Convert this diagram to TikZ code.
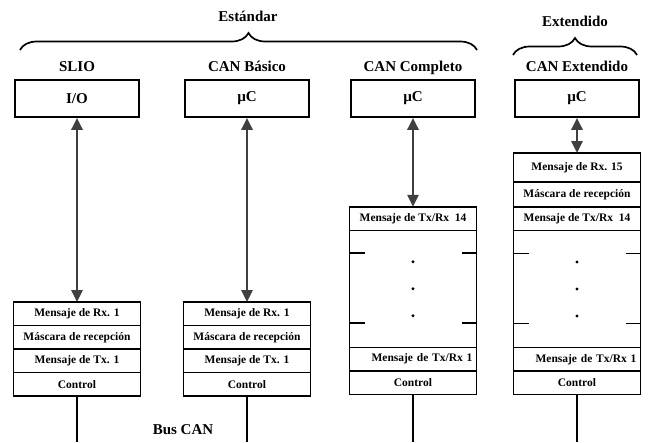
\documentclass[tikz,border=0pt]{standalone}
\usepackage{fontspec}
\setmainfont{Liberation Serif}
\usetikzlibrary{arrows.meta,positioning,decorations.pathreplacing}

\begin{document}
\begin{tikzpicture}[x=1pt,y=-1pt,node distance=0pt,
 title/.style={font=\fontsize{15}{17}\selectfont\bfseries,text height=1.5ex,text depth=0.45ex},
 cpu/.style={draw,line width=1.7pt,minimum width=124pt,minimum height=37pt,font=\fontsize{15}{17}\selectfont\bfseries},
 row/.style={draw,line width=1.5pt,minimum width=127pt,minimum height=23.5pt,inner sep=0pt,outer sep=0pt,font=\fontsize{11.5}{13}\selectfont\bfseries},
 gap/.style={row,minimum height=117pt},
 rrow/.style={row,text width=119pt,align=right},
 link/.style={line width=2.8pt,draw=black!75,{Triangle[length=12pt,width=11pt]}-{Triangle[length=12pt,width=11pt]}},
 bus/.style={line width=2pt},
 tick/.style={line width=1.8pt},
 brace/.style={decorate,decoration={brace,amplitude=17pt},line width=1.7pt}]
\useasboundingbox (0,0) rectangle (656,442);
% cabeceras
\node[title] (std) at (248,19) {Estándar};
\node[title] (ext) at (575,24) {Extendido};
\draw[brace] (20,50) -- (477,50);
\draw[brace] (513,55) -- (637,55);
% controladores
\node[cpu] (slio) at (77,98.5) {I/O};
\node[cpu] (basic) at (247,98.5) {µC};
\node[cpu] (full) at (413,98.5) {µC};
\node[cpu] (extd) at (577,98.5) {µC};
\node[title,above=2pt of slio] {SLIO};
\node[title,above=2pt of basic] {CAN Básico};
\node[title,above=2pt of full] {CAN Completo};
\node[title,above=2pt of extd] {CAN Extendido};
% SLIO
\node[row] (s1) at (77,313.75) {Mensaje de Rx. 1};
\node[row,below=of s1] (s2) {Máscara de recepción};
\node[row,below=of s2] (s3) {Mensaje de Tx. 1};
\node[row,below=of s3] (s4) {Control};
% CAN basico
\node[row] (b1) at (247,313.75) {Mensaje de Rx. 1};
\node[row,below=of b1] (b2) {Máscara de recepción};
\node[row,below=of b2] (b3) {Mensaje de Tx. 1};
\node[row,below=of b3] (b4) {Control};
% CAN completo
\node[row] (c1) at (413,218.5) {Mensaje de Tx/Rx\ \ 14};
\node[gap,below=of c1] (c2) {};
\node[rrow,below=of c2] (c3) {Mensaje de Tx/Rx 1};
\node[row,below=of c3] (c4) {Control};
% CAN extendido
\node[row,minimum height=29pt] (e0) at (577,167.5) {Mensaje de Rx. 15};
\node[row,minimum height=25pt,below=of e0] (e1) {Máscara de recepción};
\node[row,below=of e1] (e2) {Mensaje de Tx/Rx\ \ 14};
\node[gap,below=of e2] (e3) {};
\node[rrow,below=of e3] (e4) {Mensaje de Tx/Rx 1};
\node[row,below=of e4] (e5) {Control};
% puntos suspensivos
\foreach \g in {c2,e3}{
  \draw[tick] ([yshift=-23pt]\g.north west) -- +(15,0);
  \draw[tick] ([yshift=-23pt]\g.north east) -- +(-15,0);
  \draw[tick] ([yshift=24pt]\g.south west) -- +(15,0);
  \draw[tick] ([yshift=24pt]\g.south east) -- +(-15,0);
  \fill (\g.center) circle (1.7pt);
  \fill ([yshift=27pt]\g.center) circle (1.7pt);
  \fill ([yshift=-27pt]\g.center) circle (1.7pt);
}
% enlaces
\draw[link] (slio.south) -- (s1.north);
\draw[link] (basic.south) -- (b1.north);
\draw[link] (full.south) -- (c1.north);
\draw[link] (extd.south) -- (e0.north);
% bus
\coordinate (busend) at (0,442);
\draw[bus] (s4.south) -- (s4.south |- busend);
\draw[bus] (b4.south) -- (b4.south |- busend);
\draw[bus] (c4.south) -- (c4.south |- busend);
\draw[bus] (e5.south) -- (e5.south |- busend);
\node[title] (buslabel) at (183,432) {Bus CAN};
\end{tikzpicture}
\end{document}
